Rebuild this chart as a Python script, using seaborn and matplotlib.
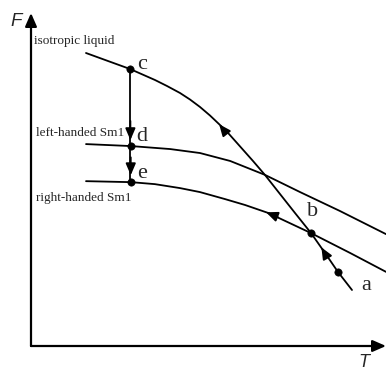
import matplotlib
matplotlib.use("Agg")
import matplotlib.pyplot as plt
import seaborn as sns
import pandas as pd

# Data (arbitrary units: T horizontal, F vertical)
iso_T = [1.549, 2.169, 2.789, 3.493, 3.831, 4.197, 4.479, 4.761, 5.042, 5.324, 5.577,
         5.803, 6.254, 6.592, 7.014, 7.437, 7.887, 8.282, 8.648, 9.042]
iso_F = [8.852, 8.610, 8.369, 8.036, 7.855, 7.644, 7.447, 7.221, 6.964, 6.677, 6.405,
         6.133, 5.589, 5.166, 4.592, 4.018, 3.414, 2.810, 2.236, 1.692]
left_T = [1.55, 2.82, 3.92, 4.76, 5.61, 6.59, 7.58, 8.70, 10.0]
left_F = [6.10, 6.04, 5.95, 5.83, 5.59, 5.17, 4.65, 4.08, 3.38]
right_T = [1.55, 2.82, 3.49, 4.20, 4.76, 5.46, 6.03, 6.68, 7.89, 8.99, 10.0]
right_F = [4.98, 4.95, 4.89, 4.77, 4.65, 4.44, 4.26, 4.02, 3.41, 2.81, 2.24]

phase_labels = ["isotropic liquid", "left-handed Sm1", "right-handed Sm1"]
point_names = ["c", "d", "e", "b", "a"]
point_T = [2.80, 2.81, 2.81, 7.89, 8.65]
point_F = [8.37, 6.04, 4.95, 3.41, 2.24]

sns.set_style("white")
plt.rcParams["font.family"] = ["Liberation Serif", "DejaVu Serif"]

fig = plt.figure(figsize=(3.86, 3.72), dpi=100)
ax = fig.add_axes([31 / 386, 26 / 372, 355 / 386, 331 / 372])
ax.set_xlim(0, 10)
ax.set_ylim(0, 10)
for s in ax.spines.values():
    s.set_visible(False)
ax.set_xticks([])
ax.set_yticks([])
ax.patch.set_alpha(0)

lw = 1.3
for T, F in [(iso_T, iso_F), (left_T, left_F), (right_T, right_F)]:
    df = pd.DataFrame({"T": T, "F": F})
    sns.lineplot(data=df, x="T", y="F", sort=False, color="black", lw=lw, ax=ax)
ax.set_xlabel("")
ax.set_ylabel("")

# vertical transition line c -> d -> e
ax.plot([point_T[0], point_T[0]], [point_F[0], point_F[2]], color="black", lw=lw)
head = dict(arrowstyle="-|>,head_length=0.7,head_width=0.3", color="black", lw=lw,
            shrinkA=0, shrinkB=0)
ax.annotate("", xy=(2.80, 6.22), xytext=(2.80, 6.8), arrowprops=head)
ax.annotate("", xy=(2.81, 5.16), xytext=(2.81, 5.7), arrowprops=head)

# arrowheads along curves
ax.annotate("", xy=(5.30, 6.70), xytext=(5.50, 6.43), arrowprops=head)
ax.annotate("", xy=(8.18, 2.98), xytext=(8.33, 2.70), arrowprops=head)
ax.annotate("", xy=(6.62, 4.04), xytext=(6.95, 3.90), arrowprops=head)

# points
sns.scatterplot(x=point_T, y=point_F, color="black", s=28, edgecolor="black", ax=ax, zorder=5)

# letters
letter_pos = [(3.13, 8.50), (3.13, 6.32), (3.13, 5.21), (7.94, 4.06), (9.44, 1.82)]
for name, (x, y) in zip(point_names, letter_pos):
    ax.text(x, y, name, fontsize=16, ha="center", va="center")

# phase labels
label_pos = [(0.08, 9.21), (0.14, 6.44), (0.14, 4.47)]
for lab, (x, y) in zip(phase_labels, label_pos):
    ax.text(x, y, lab, fontsize=9.5, ha="left", va="center")

# axes with arrows
axhead = dict(arrowstyle="-|>,head_length=0.8,head_width=0.35", color="black", lw=1.6,
              shrinkA=0, shrinkB=0)
ax.annotate("", xy=(0, 10.06), xytext=(0, 0), arrowprops=axhead, annotation_clip=False)
ax.annotate("", xy=(10.0, 0), xytext=(0, 0), arrowprops=axhead, annotation_clip=False)

ax.text(-0.42, 9.80, "F", fontsize=13.5, style="italic", family=["Liberation Sans"],
        ha="center", va="center", clip_on=False)
ax.text(9.38, -0.50, "T", fontsize=13, style="italic", family=["Liberation Sans"],
        ha="center", va="center", clip_on=False)

fig.savefig("out.png", dpi=100)
